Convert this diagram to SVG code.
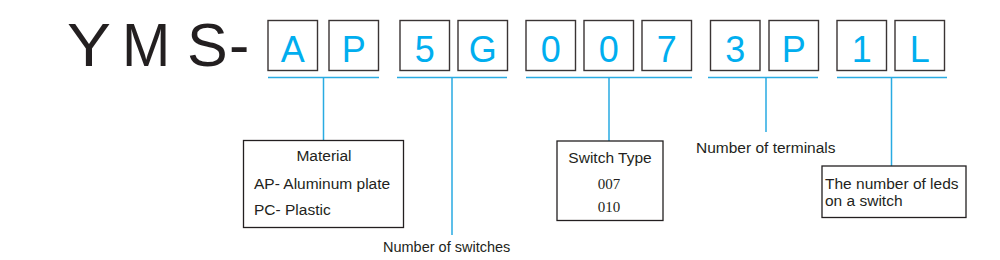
<svg xmlns="http://www.w3.org/2000/svg" width="1000" height="260" viewBox="0 0 1000 260">
<style>
.cbox{fill:#fff;stroke:#3a3434;stroke-width:1.4}
.cl{font-family:"Liberation Sans",Arial,sans-serif;font-size:36px;fill:#00aeef;text-anchor:middle}
.big{font-family:"Liberation Sans",Arial,sans-serif;font-size:61px;fill:#231f20}
.ln{stroke:#29abe2;stroke-width:1.5;fill:none}
.lbox{fill:#fff;stroke:#231f20;stroke-width:1.3}
.t{font-family:"Liberation Sans",Arial,sans-serif;font-size:15.5px;fill:#231f20}
.s{font-family:"Liberation Serif","Times New Roman",serif;font-size:15px;fill:#231f20;text-anchor:middle}
</style>
<rect width="1000" height="260" fill="#fff"/>
<g id="prefix">
<text class="big" x="67" y="66" transform="translate(67 0) scale(1.08 1) translate(-67 0)">Y</text>
<text class="big" x="122" y="66" transform="translate(122 0) scale(0.95 1) translate(-122 0)">M</text>
<text class="big" x="187" y="66">S</text>
<text class="big" x="229" y="66">-</text>
</g>
<g id="code-boxes">
<rect class="cbox" x="268" y="20.5" width="49.5" height="50"/><text class="cl" x="292.8" y="61.5">A</text>
<rect class="cbox" x="329" y="20.5" width="49.5" height="50"/><text class="cl" x="353.8" y="61.5">P</text>
<rect class="cbox" x="400" y="20.5" width="49.5" height="50"/><text class="cl" x="424.8" y="61.5">5</text>
<rect class="cbox" x="458" y="20.5" width="49.5" height="50"/><text class="cl" x="482.8" y="61.5">G</text>
<rect class="cbox" x="526" y="20.5" width="49.5" height="50"/><text class="cl" x="550.8" y="61.5">0</text>
<rect class="cbox" x="584" y="20.5" width="49.5" height="50"/><text class="cl" x="608.8" y="61.5">0</text>
<rect class="cbox" x="642" y="20.5" width="49.5" height="50"/><text class="cl" x="666.8" y="61.5">7</text>
<rect class="cbox" x="710.5" y="20.5" width="49.5" height="50"/><text class="cl" x="735.3" y="61.5">3</text>
<rect class="cbox" x="769" y="20.5" width="49.5" height="50"/><text class="cl" x="793.8" y="61.5">P</text>
<rect class="cbox" x="837" y="20.5" width="49.5" height="50"/><text class="cl" x="861.8" y="61.5">1</text>
<rect class="cbox" x="895" y="20.5" width="49.5" height="50"/><text class="cl" x="919.8" y="61.5">L</text>
</g>
<g id="connectors">
<path class="ln" d="M268 77.5H379M323.5 77.5V140"/>
<path class="ln" d="M397 77.5H507M452 77.5V235"/>
<path class="ln" d="M526 77.5H692M609 77.5V141"/>
<path class="ln" d="M708 77.5H818M766 77.5V132"/>
<path class="ln" d="M837 77.5H947M891.5 77.5V166"/>
</g>
<g id="material">
<rect class="lbox" x="243.5" y="140.5" width="160" height="87"/>
<text class="t" x="324" y="161" text-anchor="middle">Material</text>
<text class="t" x="254" y="189">AP- Aluminum plate</text>
<text class="t" x="254" y="215">PC- Plastic</text>
</g>
<g id="switches">
<text class="t" x="383" y="252" style="font-size:14.5px">Number of switches</text>
</g>
<g id="switch-type">
<rect class="lbox" x="557" y="141" width="106" height="79.5"/>
<text class="t" x="610" y="163" text-anchor="middle">Switch Type</text>
<text class="s" x="609" y="188.5">007</text>
<text class="s" x="609" y="211.5">010</text>
</g>
<g id="terminals">
<text class="t" x="696" y="153">Number of terminals</text>
</g>
<g id="leds">
<rect class="lbox" x="822" y="166" width="144" height="51.5"/>
<text class="t" x="825" y="188.5">The number of leds</text>
<text class="t" x="825" y="206">on a switch</text>
</g>
</svg>
